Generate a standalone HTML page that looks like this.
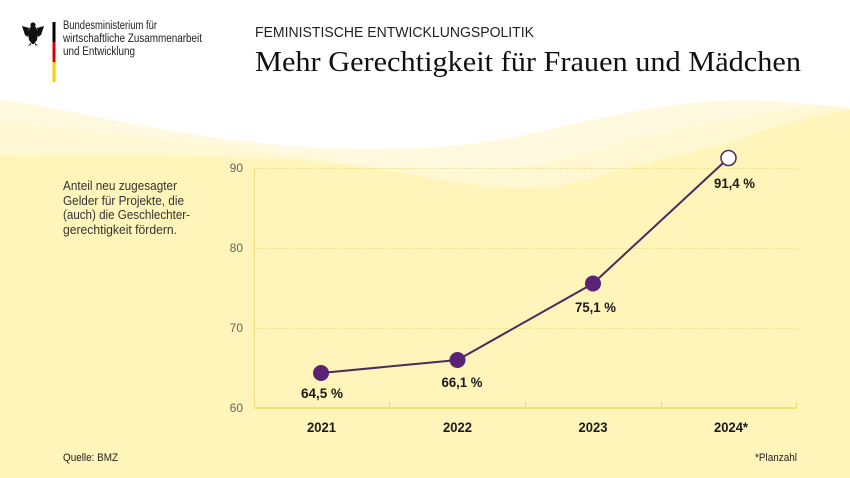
<!DOCTYPE html>
<html>
<head>
<meta charset="utf-8">
<style>
  html,body{margin:0;padding:0;background:#fff;}
  svg{display:block;}
  text{font-family:"Liberation Sans",sans-serif;}
</style>
</head>
<body>
<svg width="850" height="478" viewBox="0 0 850 478" xmlns="http://www.w3.org/2000/svg">
  <!-- background layers -->
  <rect x="0" y="0" width="850" height="478" fill="#fff4b9"/>
  <!-- pale layer -->
  <path d="M0,0 L850,0 L850,110 C800,118 770,128 737,140 C700,152 680,155 658,160 C610,172 580,186 530,188 C470,190 400,168 300,160 C200,154 100,154 0,156 Z" fill="#fff8d2"/>
  <path d="M0,0 L850,0 L850,104 C790,108 720,118 650,135 C590,150 540,170 470,172 C400,172 330,160 250,150 C170,140 80,128 0,122 Z" fill="#fffadf"/>
  <!-- white top -->
  <path d="M0,0 L850,0 L850,108 C800,102 760,100 725,101 C660,103 600,118 530,134 C480,145 440,148 380,149 C300,150 220,140 150,127 C90,116 40,104 0,100 Z" fill="#ffffff"/>

  <!-- logo -->
  <g fill="#111">
    <circle cx="33" cy="25" r="2.6"/>
    <path d="M30,27 L36,27 L38,33 L37,40 L34,44 L32,44 L29,40 L28,33 Z"/>
    <path d="M29,28 L22,26 L23,29 L24,32 L25,35 L28,37 Z"/>
    <path d="M37,28 L44,26 L43,29 L42,32 L41,35 L38,37 Z"/>
    <path d="M31,43 L28,46 L31,45 Z"/>
    <path d="M35,43 L38,46 L35,45 Z"/>
  </g>
  <rect x="52.5" y="22" width="3" height="20" fill="#000"/>
  <rect x="52.5" y="42" width="3" height="20" fill="#dd0000"/>
  <rect x="52.5" y="62" width="3" height="20" fill="#ffcc00"/>
  <text x="63" y="29" font-size="11.5" fill="#222" textLength="94" lengthAdjust="spacingAndGlyphs">Bundesministerium für</text>
  <text x="63" y="42" font-size="11.5" fill="#222" textLength="139" lengthAdjust="spacingAndGlyphs">wirtschaftliche Zusammenarbeit</text>
  <text x="63" y="55" font-size="11.5" fill="#222" textLength="72" lengthAdjust="spacingAndGlyphs">und Entwicklung</text>

  <!-- titles -->
  <text x="255" y="37" font-size="14.5" fill="#222" textLength="279" lengthAdjust="spacingAndGlyphs">FEMINISTISCHE ENTWICKLUNGSPOLITIK</text>
  <text x="255" y="71" font-size="29" fill="#111" style="font-family:'Liberation Serif',serif" textLength="546" lengthAdjust="spacingAndGlyphs">Mehr Gerechtigkeit für Frauen und Mädchen</text>

  <!-- description -->
  <g font-size="12.5" fill="#333">
    <text x="63" y="190" textLength="114" lengthAdjust="spacingAndGlyphs">Anteil neu zugesagter</text>
    <text x="63" y="205" textLength="121" lengthAdjust="spacingAndGlyphs">Gelder für Projekte, die</text>
    <text x="63" y="219" textLength="127" lengthAdjust="spacingAndGlyphs">(auch) die Geschlechter-</text>
    <text x="63" y="234" textLength="114" lengthAdjust="spacingAndGlyphs">gerechtigkeit fördern.</text>
  </g>

  <!-- grid -->
  <g stroke="#efdc85" stroke-width="1" stroke-dasharray="1.5,1.5">
    <line x1="254" y1="168.5" x2="797" y2="168.5"/>
    <line x1="254" y1="248.5" x2="797" y2="248.5"/>
    <line x1="254" y1="328.5" x2="797" y2="328.5"/>
  </g>
  <line x1="254.5" y1="168" x2="254.5" y2="408" stroke="#f1df80" stroke-width="1"/>
  <line x1="254" y1="408" x2="797" y2="408" stroke="#efd968" stroke-width="1.5"/>
  <g stroke="#efd968" stroke-width="1">
    <line x1="389.5" y1="402" x2="389.5" y2="408"/>
    <line x1="525.5" y1="402" x2="525.5" y2="408"/>
    <line x1="661.5" y1="402" x2="661.5" y2="408"/>
    <line x1="796.5" y1="402" x2="796.5" y2="408"/>
  </g>

  <!-- y labels -->
  <g font-size="12" fill="#666" text-anchor="end">
    <text x="243" y="172">90</text>
    <text x="243" y="252">80</text>
    <text x="243" y="332">70</text>
    <text x="243" y="412">60</text>
  </g>

  <!-- series -->
  <polyline points="321,373 457.5,360 593,283.5 728.5,158" fill="none" stroke="#4a2c5c" stroke-width="2"/>
  <circle cx="321" cy="373" r="8" fill="#5a2274"/>
  <circle cx="457.5" cy="360" r="8" fill="#5a2274"/>
  <circle cx="593" cy="283.5" r="8" fill="#5a2274"/>
  <circle cx="728.5" cy="158" r="7.5" fill="#ffffff" stroke="#4a2c5c" stroke-width="1.5"/>

  <!-- data labels -->
  <g font-size="14" font-weight="bold" fill="#1a1a1a" text-anchor="middle">
    <text x="322" y="398" textLength="42" lengthAdjust="spacingAndGlyphs">64,5 %</text>
    <text x="462" y="387" textLength="41" lengthAdjust="spacingAndGlyphs">66,1 %</text>
    <text x="595.5" y="312" textLength="41" lengthAdjust="spacingAndGlyphs">75,1 %</text>
    <text x="734.5" y="188" textLength="41" lengthAdjust="spacingAndGlyphs">91,4 %</text>
  </g>

  <!-- x labels -->
  <g font-size="13.5" font-weight="bold" fill="#1a1a1a" text-anchor="middle">
    <text x="321.5" y="432" textLength="29" lengthAdjust="spacingAndGlyphs">2021</text>
    <text x="457.5" y="432" textLength="29" lengthAdjust="spacingAndGlyphs">2022</text>
    <text x="593" y="432" textLength="29" lengthAdjust="spacingAndGlyphs">2023</text>
    <text x="731" y="432" textLength="34" lengthAdjust="spacingAndGlyphs">2024*</text>
  </g>

  <!-- footer -->
  <text x="63" y="461" font-size="11" fill="#222" textLength="55" lengthAdjust="spacingAndGlyphs">Quelle: BMZ</text>
  <text x="797" y="461" font-size="11" fill="#222" text-anchor="end" textLength="42" lengthAdjust="spacingAndGlyphs">*Planzahl</text>
</svg>
</body>
</html>
